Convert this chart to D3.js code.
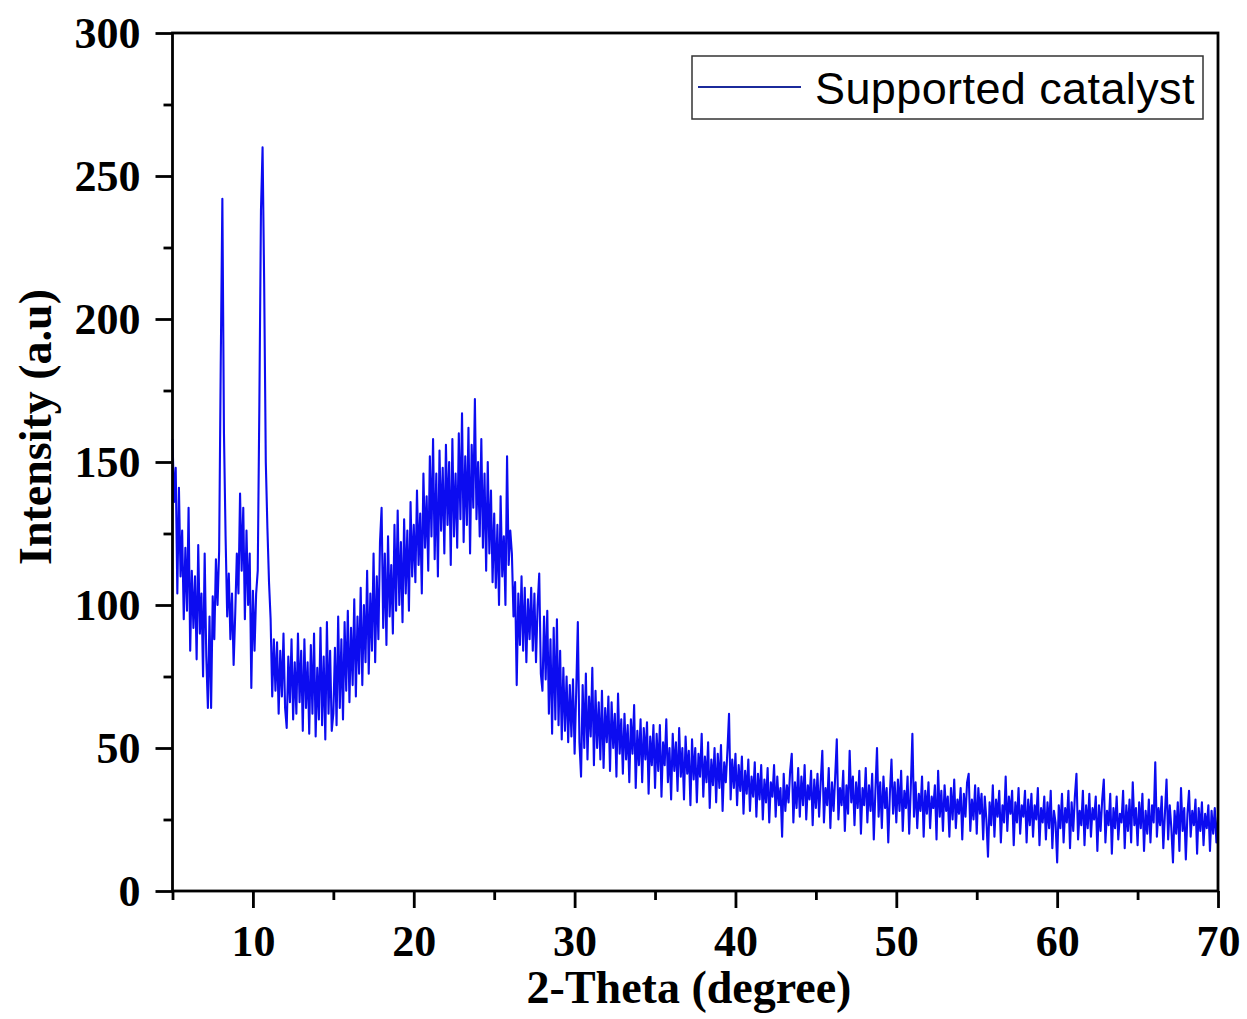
<!DOCTYPE html>
<html lang="en">

<head>
    <meta charset="UTF-8">
    <title>XRD - Supported catalyst</title>
    <script src="https://cdn.jsdelivr.net/npm/d3@7/dist/d3.min.js"></script>
    <style>
        body { margin: 0; background: #fff; }
    </style>
</head>

<body>
    <div id="container"></div>

    <script>
        const width = 1247;
        const height = 1019;
        const margin = { top: 33, left: 172.5, right: 29, bottom: 128 };

        // scan grid: 2-theta from 5 to 70 deg, 0.1 deg step
        const scanStart = 5;
        const scanStep = 0.1;

        // intensity readings, one array per 5 degrees
        const seg05 = [158, 136, 148, 104, 141, 110, 126, 95, 120, 98, 134, 84, 112, 92, 110, 81, 121, 90, 104, 75,
            118, 82, 64, 96, 64, 103, 88, 116, 100, 119, 185, 242, 160, 124, 96, 111, 88, 104, 79, 97,
            118, 104, 139, 112, 134, 95, 126, 100, 118, 71];
        const seg10 = [105, 84, 104, 112, 170, 238, 260, 212, 150, 127, 108, 95, 68, 88, 70, 87, 62, 84, 68, 90,
            64, 57, 82, 66, 88, 60, 80, 62, 90, 66, 84, 56, 88, 64, 80, 55, 86, 62, 90, 54,
            78, 60, 92, 58, 82, 53, 94, 62, 84, 56];
        const seg15 = [62, 85, 58, 96, 64, 88, 60, 94, 70, 98, 66, 92, 72, 102, 68, 96, 76, 106, 72, 100,
            80, 112, 76, 104, 84, 118, 80, 110, 88, 122, 134, 92, 118, 86, 124, 96, 114, 90, 128, 98,
            133, 100, 122, 94, 130, 104, 126, 98, 136, 110];
        const seg20 = [128, 108, 140, 114, 132, 104, 146, 120, 138, 112, 152, 124, 158, 116, 146, 110, 154, 126, 148, 118,
            156, 128, 150, 114, 158, 124, 146, 120, 160, 130, 167, 122, 152, 128, 162, 118, 156, 134, 172, 130,
            150, 124, 158, 120, 146, 112, 150, 118, 140, 108];
        const seg25 = [132, 106, 128, 100, 138, 110, 124, 100, 152, 114, 126, 118, 96, 108, 72, 104, 86, 110, 84, 106,
            80, 102, 88, 106, 84, 104, 80, 100, 111, 76, 70, 96, 74, 98, 62, 88, 55, 92, 60, 95,
            58, 84, 53, 78, 56, 75, 52, 72, 54, 74];
        const seg30 = [48, 70, 94, 52, 40, 72, 50, 76, 46, 68, 54, 78, 44, 70, 50, 66, 46, 70, 43, 64,
            52, 68, 42, 66, 50, 62, 40, 69, 48, 60, 41, 62, 46, 58, 38, 60, 48, 65, 36, 56,
            44, 60, 38, 57, 46, 59, 34, 54, 44, 58];
        const seg35 = [36, 55, 42, 58, 33, 52, 44, 60, 38, 50, 32, 55, 42, 52, 35, 57, 40, 50, 32, 54,
            41, 49, 30, 53, 39, 50, 31, 48, 40, 55, 33, 47, 38, 52, 29, 46, 37, 50, 31, 48,
            36, 51, 28, 45, 38, 49, 62, 32, 46, 36];
        const seg40 = [48, 30, 44, 35, 47, 27, 42, 34, 46, 28, 40, 33, 45, 26, 41, 32, 44, 25, 39, 31,
            43, 24, 38, 33, 44, 26, 40, 30, 36, 19, 41, 28, 37, 31, 42, 48, 24, 38, 29, 43,
            26, 40, 30, 44, 25, 37, 32, 42, 23, 39];
        const seg45 = [29, 41, 26, 38, 49, 24, 36, 30, 43, 22, 38, 28, 40, 53, 25, 36, 30, 42, 21, 37,
            27, 49, 31, 40, 23, 38, 29, 42, 20, 36, 30, 43, 24, 37, 28, 41, 18, 35, 50, 26,
            38, 22, 40, 29, 36, 17, 34, 46, 27, 38];
        const seg50 = [24, 39, 28, 42, 21, 35, 29, 40, 20, 36, 55, 26, 38, 22, 34, 28, 40, 19, 35, 27,
            38, 22, 33, 29, 37, 18, 42, 26, 35, 21, 37, 28, 33, 19, 36, 25, 39, 22, 32, 27,
            36, 18, 34, 26, 38, 41, 21, 32, 25, 37];
        const seg55 = [20, 36, 27, 34, 18, 33, 25, 12, 31, 23, 37, 19, 32, 26, 35, 17, 30, 24, 40, 21,
            33, 27, 35, 16, 31, 24, 36, 20, 30, 26, 35, 17, 32, 23, 34, 19, 30, 25, 36, 16,
            29, 24, 33, 18, 31, 22, 35, 15, 28, 24];
        const seg60 = [10, 30, 22, 34, 17, 29, 24, 35, 15, 31, 21, 33, 41, 18, 28, 23, 35, 16, 30, 22,
            34, 19, 29, 25, 33, 14, 30, 21, 32, 39, 17, 28, 23, 34, 13, 29, 22, 33, 18, 27,
            24, 35, 15, 30, 21, 32, 17, 38, 23, 29];
        const seg65 = [16, 31, 22, 34, 14, 28, 20, 32, 17, 30, 24, 45, 19, 29, 23, 33, 15, 27, 39, 18,
            30, 22, 10, 28, 20, 31, 14, 36, 21, 29, 11, 27, 35, 19, 28, 23, 32, 13, 29, 21,
            31, 16, 27, 22, 30, 14, 28, 20, 29, 17, 26];

        const intensity = [].concat(seg05, seg10, seg15, seg20, seg25, seg30, seg35,
            seg40, seg45, seg50, seg55, seg60, seg65);

        const xMajor = [10, 20, 30, 40, 50, 60, 70];
        const xMinor = [5, 15, 25, 35, 45, 55, 65];
        const yMajor = [0, 50, 100, 150, 200, 250, 300];
        const yMinor = [25, 75, 125, 175, 225, 275];

        const seriesName = 'Supported catalyst';
        const xTitle = '2-Theta (degree)';
        const yTitle = 'Intensity (a.u)';

        const data = intensity.map((v, i) => ({ x: +(scanStart + i * scanStep).toFixed(1), y: v }));

        const x = d3.scaleLinear().domain([5, 70]).range([margin.left, width - margin.right]);
        const y = d3.scaleLinear().domain([0, 300]).range([height - margin.bottom, margin.top]);

        const serif = '"Liberation Serif", "Times New Roman", Times, serif';

        const svg = d3.select('#container').append('svg')
            .attr('width', width)
            .attr('height', height)
            .style('display', 'block');

        // trace
        const line = d3.line()
            .x(d => x(d.x))
            .y(d => y(d.y));

        svg.append('path')
            .datum(data)
            .attr('fill', 'none')
            .attr('stroke', '#0c0cf0')
            .attr('stroke-width', 2.1)
            .attr('stroke-linejoin', 'round')
            .attr('d', line);

        function styleAxis(g) {
            g.select('.domain').remove();
            g.selectAll('.tick line').attr('stroke', '#000').attr('stroke-width', 2.8);
            g.selectAll('.tick text')
                .attr('fill', '#000')
                .style('font-family', serif)
                .style('font-weight', 'bold')
                .style('font-size', '44px');
        }

        const yPix = height - margin.bottom;

        svg.append('g')
            .attr('transform', `translate(0, ${yPix})`)
            .call(d3.axisBottom(x).tickValues(xMinor).tickSize(9).tickFormat(''))
            .call(styleAxis);
        svg.append('g')
            .attr('transform', `translate(0, ${yPix})`)
            .call(d3.axisBottom(x).tickValues(xMajor).tickSize(17).tickPadding(17).tickFormat(d3.format('d')))
            .call(styleAxis);

        svg.append('g')
            .attr('transform', `translate(${margin.left}, 0)`)
            .call(d3.axisLeft(y).tickValues(yMinor).tickSize(9).tickFormat(''))
            .call(styleAxis);
        svg.append('g')
            .attr('transform', `translate(${margin.left}, 0)`)
            .call(d3.axisLeft(y).tickValues(yMajor).tickSize(17).tickPadding(15).tickFormat(d3.format('d')))
            .call(styleAxis);

        // frame
        svg.append('rect')
            .attr('x', margin.left)
            .attr('y', margin.top)
            .attr('width', width - margin.right - margin.left)
            .attr('height', height - margin.bottom - margin.top)
            .attr('fill', 'none')
            .attr('stroke', '#000')
            .attr('stroke-width', 2.8);

        // titles
        svg.append('text')
            .attr('x', 689)
            .attr('y', 1003)
            .attr('text-anchor', 'middle')
            .style('font-family', serif)
            .style('font-weight', 'bold')
            .style('font-size', '46px')
            .text(xTitle);

        svg.append('text')
            .attr('transform', 'translate(51, 427) rotate(-90)')
            .attr('text-anchor', 'middle')
            .style('font-family', serif)
            .style('font-weight', 'bold')
            .style('font-size', '46px')
            .text(yTitle);

        // legend
        const legend = svg.append('g');
        legend.append('rect')
            .attr('x', 692)
            .attr('y', 56)
            .attr('width', 511)
            .attr('height', 63)
            .attr('fill', '#fff')
            .attr('stroke', '#333')
            .attr('stroke-width', 1.5);
        legend.append('line')
            .attr('x1', 698)
            .attr('x2', 801)
            .attr('y1', 87)
            .attr('y2', 87)
            .attr('stroke', '#1b2a9b')
            .attr('stroke-width', 2);
        legend.append('text')
            .attr('x', 815)
            .attr('y', 104)
            .style('font-family', '"Liberation Sans", Arial, sans-serif')
            .style('font-size', '45px')
            .style('letter-spacing', '0.4px')
            .text(seriesName);
    </script>
</body>

</html>
